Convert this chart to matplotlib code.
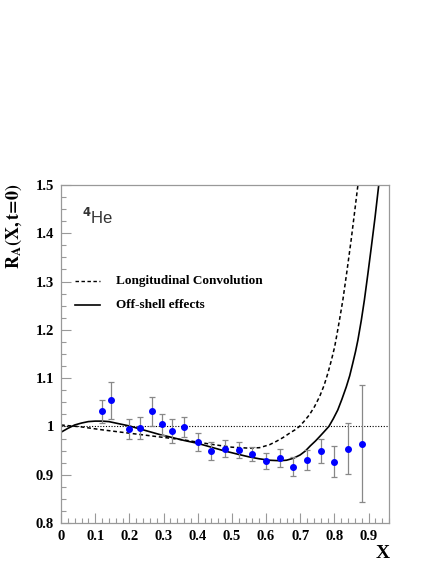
import matplotlib
matplotlib.use("Agg")
import matplotlib.pyplot as plt
from matplotlib.ticker import MultipleLocator, FixedLocator

# Data points (He-4 EMC ratio)
x_data = [0.12, 0.145, 0.2, 0.23, 0.265, 0.295, 0.325, 0.36, 0.4, 0.44, 0.48,
          0.52, 0.56, 0.6, 0.64, 0.68, 0.72, 0.76, 0.8, 0.84, 0.88]
y_data = [1.031, 1.054, 0.995, 0.997, 1.031, 1.004, 0.991, 0.999, 0.968, 0.949, 0.954,
          0.951, 0.943, 0.928, 0.935, 0.917, 0.930, 0.949, 0.927, 0.954, 0.964]
y_err = [0.023, 0.039, 0.020, 0.022, 0.030, 0.021, 0.025, 0.020, 0.018, 0.019, 0.017,
         0.017, 0.015, 0.016, 0.018, 0.019, 0.021, 0.024, 0.032, 0.053, 0.121]

# Off-shell effects curve (solid)
x_off = [0.0, 0.02, 0.04, 0.06, 0.08, 0.10, 0.12, 0.14, 0.16, 0.18, 0.2, 0.23, 0.26,
         0.29, 0.32, 0.36, 0.4, 0.44, 0.48, 0.52, 0.55, 0.58, 0.61, 0.64, 0.66, 0.68,
         0.70, 0.715, 0.73, 0.745, 0.757, 0.77, 0.784, 0.797, 0.81, 0.822, 0.835, 0.845,
         0.854, 0.862, 0.869, 0.879, 0.888, 0.898, 0.908, 0.919, 0.93]
y_off = [0.988, 0.996, 1.003, 1.007, 1.010, 1.011, 1.011, 1.010, 1.007, 1.004, 1.001,
         0.995, 0.989, 0.983, 0.978, 0.971, 0.965, 0.957, 0.949, 0.942, 0.937, 0.933,
         0.930, 0.929, 0.930, 0.934, 0.941, 0.949, 0.960, 0.970, 0.979, 0.989, 1.0,
         1.016, 1.034, 1.056, 1.082, 1.105, 1.131, 1.155, 1.179, 1.220, 1.262, 1.315,
         1.370, 1.432, 1.5]

# Longitudinal convolution curve (dashed)
x_lc = [0.0, 0.06, 0.12, 0.2, 0.28, 0.36, 0.44, 0.5, 0.55, 0.581, 0.61, 0.63, 0.65,
        0.669, 0.685, 0.698, 0.712, 0.727, 0.742, 0.757, 0.77, 0.781, 0.791, 0.801,
        0.808, 0.815, 0.825, 0.837, 0.849, 0.859, 0.869]
y_lc = [1.003, 0.999, 0.993, 0.986, 0.979, 0.972, 0.963, 0.957, 0.955, 0.956, 0.962,
        0.969, 0.977, 0.986, 0.993, 1.0, 1.011, 1.024, 1.041, 1.062, 1.085, 1.110,
        1.136, 1.165, 1.192, 1.220, 1.262, 1.322, 1.385, 1.442, 1.5]

y_ticks = [0.8, 0.9, 1.0, 1.1, 1.2, 1.3, 1.4, 1.5]
y_tick_labels = ["0.8", "0.9", "1", "1.1", "1.2", "1.3", "1.4", "1.5"]
x_ticks = [0, 0.1, 0.2, 0.3, 0.4, 0.5, 0.6, 0.7, 0.8, 0.9]
x_tick_labels = ["0", "0.1", "0.2", "0.3", "0.4", "0.5", "0.6", "0.7", "0.8", "0.9"]

serif = ["Liberation Serif", "DejaVu Serif"]

fig = plt.figure(figsize=(4.36, 5.64), dpi=100)
ax = fig.add_axes([61/436, 1-523/564, (389-61)/436, (523-185)/564])
ax.set_xlim(0, 0.96)
ax.set_ylim(0.8, 1.5)

ax.axhline(1.0, color="black", lw=0.8, ls=(0, (1, 1.5)))
ax.plot(x_lc, y_lc, color="black", lw=1.1, ls=(0, (2.5, 1.8)))
ax.plot(x_off, y_off, color="black", lw=1.2)
ax.errorbar(x_data, y_data, yerr=y_err, fmt="o", color="#0000ff", ms=4.0,
            ecolor="#888888", elinewidth=0.9, capsize=2.2, capthick=0.9, zorder=5)

for s in ax.spines.values():
    s.set_color("#999999")
    s.set_linewidth(0.9)

ax.xaxis.set_major_locator(FixedLocator(x_ticks))
ax.set_xticklabels(x_tick_labels)
ax.xaxis.set_minor_locator(MultipleLocator(0.02))
ax.yaxis.set_major_locator(FixedLocator(y_ticks))
ax.set_yticklabels(y_tick_labels)
ax.yaxis.set_minor_locator(MultipleLocator(0.025))
ax.tick_params(which="both", direction="in", color="#999999", width=0.8)
ax.tick_params(which="major", length=7)
ax.tick_params(which="minor", length=3.5)
ax.tick_params(axis="both", labelsize=10.5, pad=5)
for lab in ax.get_xticklabels() + ax.get_yticklabels():
    lab.set_fontfamily(serif)
    lab.set_fontweight("bold")

fig.text(14/436, 1-183/564, r"$\mathbf{R_A(X,t\!=\!0)}$", rotation=90, ha="center",
         va="top", fontsize=13, fontfamily=serif, fontweight="bold",
         math_fontfamily="stix")
fig.text(383/436, 1-553/564, "X", ha="center", va="center", fontsize=14,
         fontfamily=serif, fontweight="bold")

ax.text(0.06, 1.433, r"$^{\mathbf{4}}$He", fontsize=12,
        fontfamily=["Liberation Sans", "DejaVu Sans"], color="#333333",
        ha="left", va="center")

# legend
ax.plot([0.04, 0.115], [1.302, 1.302], color="black", lw=1.0, ls=(0, (2.5, 1.8)))
ax.plot([0.04, 0.115], [1.252, 1.252], color="black", lw=1.2)
ax.text(0.16, 1.302, "Longitudinal Convolution", fontsize=9.5, fontfamily=serif,
        fontweight="bold", ha="left", va="center")
ax.text(0.16, 1.252, "Off-shell effects", fontsize=9.5, fontfamily=serif,
        fontweight="bold", ha="left", va="center")

fig.savefig("out.png", dpi=100)
